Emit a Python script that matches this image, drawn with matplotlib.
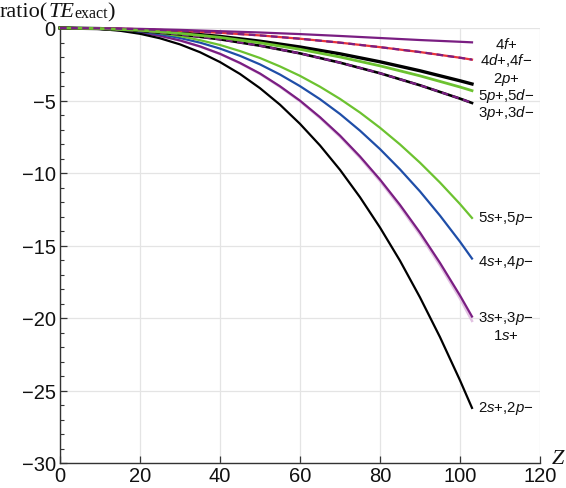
import matplotlib
matplotlib.use("Agg")
import matplotlib.pyplot as plt
from matplotlib.ticker import MultipleLocator

plt.rcParams["mathtext.fontset"] = "custom"
plt.rcParams["mathtext.rm"] = "Liberation Serif"
plt.rcParams["mathtext.it"] = "Liberation Serif:italic"
plt.rcParams["mathtext.bf"] = "Liberation Sans:italic"
plt.rcParams["font.family"] = ["Liberation Sans", "DejaVu Sans"]

# ---- data ----
Z5 = [0, 5, 10, 15, 20, 25, 30, 35, 40, 45, 50, 55, 60, 65, 70, 75, 80, 85, 90, 95, 100, 103]
s2 = [0, -0.01, -0.07, -0.19, -0.40, -0.71, -1.13, -1.67, -2.35, -3.17, -4.15, -5.29, -6.61,
      -8.10, -9.78, -11.67, -13.76, -16.05, -18.58, -21.32, -24.30, -26.2]
s3 = [0, -0.01, -0.05, -0.15, -0.30, -0.54, -0.86, -1.27, -1.78, -2.41, -3.14, -4.02, -5.01,
      -6.15, -7.42, -8.86, -10.45, -12.2, -14.11, -16.2, -18.45, -19.9]
s1 = [0, -0.01, -0.05, -0.15, -0.30, -0.54, -0.86, -1.28, -1.79, -2.43, -3.17, -4.06, -5.06,
      -6.21, -7.50, -8.95, -10.56, -12.33, -14.26, -16.38, -18.66, -20.2]
s4 = [0, -0.01, -0.04, -0.12, -0.24, -0.43, -0.69, -1.01, -1.42, -1.92, -2.51, -3.21, -4.01,
      -4.91, -5.93, -7.08, -8.35, -9.75, -11.27, -12.94, -14.74, -15.9]
s5 = [0, -0.01, -0.03, -0.10, -0.20, -0.35, -0.56, -0.84, -1.17, -1.59, -2.07, -2.65, -3.30,
      -4.05, -4.89, -5.83, -6.88, -8.03, -9.29, -10.66, -12.14, -13.1]

Z10 = [0, 10, 20, 30, 40, 50, 60, 70, 80, 90, 100, 103]
p2 = [0, -0.04, -0.15, -0.33, -0.58, -0.91, -1.31, -1.78, -2.33, -2.95, -3.64, -3.86]
p5 = [0, -0.04, -0.16, -0.37, -0.65, -1.02, -1.47, -2.00, -2.61, -3.30, -4.07, -4.32]
p3 = [0, -0.05, -0.20, -0.44, -0.78, -1.22, -1.75, -2.39, -3.12, -3.95, -4.87, -5.17]
d4 = [0, -0.02, -0.08, -0.19, -0.33, -0.51, -0.74, -1.01, -1.32, -1.66, -2.05, -2.18]
f4 = [0, -0.02, -0.06, -0.13, -0.22, -0.31, -0.42, -0.55, -0.69, -0.83, -0.95, -0.99]

labels = ["4$\\mathbf{f}$+", "4$\\mathbf{d}$+,4$\\mathbf{f}$\u2212", "2$\\mathbf{p}$+",
          "5$\\mathbf{p}$+,5$\\mathbf{d}$\u2212", "3$\\mathbf{p}$+,3$\\mathbf{d}$\u2212",
          "5$\\mathbf{s}$+,5$\\mathbf{p}$\u2212", "4$\\mathbf{s}$+,4$\\mathbf{p}$\u2212",
          "3$\\mathbf{s}$+,3$\\mathbf{p}$\u2212", "1$\\mathbf{s}$+", "2$\\mathbf{s}$+,2$\\mathbf{p}$\u2212"]
label_y = [-1.05, -2.14, -3.5, -4.6, -5.8, -13.1, -16.1, -20.0, -21.15, -26.2]

ylabel_parts = ["ratio(", "TE", "exact", ")"]

xticks = [0, 20, 40, 60, 80, 100, 120]
yticks = [-30, -25, -20, -15, -10, -5, 0]

PURPLE = "#7a1e82"
GREEN = "#6cc230"
BLUE = "#1f4ea8"
RED = "#e8343a"
PINK = "#e2c2e2"

W, H = 566, 489
fig = plt.figure(figsize=(W / 100, H / 100), dpi=100)
ax = fig.add_axes([60 / W, 25 / H, 480 / W, 435 / H])

lw = 1.6
ax.plot(Z5, s1, color=PINK, lw=1.8, clip_on=False, zorder=3)
ax.plot(Z5, s3, color=PURPLE, lw=lw, clip_on=False, zorder=4)
ax.plot(Z5, s2, color="black", lw=lw, clip_on=False, zorder=4)
ax.plot(Z5, s4, color=BLUE, lw=lw, clip_on=False, zorder=4)
ax.plot(Z5, s5, color=GREEN, lw=lw, clip_on=False, zorder=4)
ax.plot(Z10, p3, color="black", lw=lw + 0.3, clip_on=False, zorder=4)
ax.plot(Z10, p3, color=PURPLE, lw=lw, ls=(0, (3, 2)), clip_on=False, zorder=5)
ax.plot(Z10, p5, color=GREEN, lw=lw + 0.4, clip_on=False, zorder=5)
ax.plot(Z10, p2, color="black", lw=lw + 0.8, clip_on=False, zorder=4)
ax.plot(Z10, d4, color=RED, lw=lw, clip_on=False, zorder=4)
ax.plot(Z10, d4, color=PURPLE, lw=lw, ls=(0, (3, 2)), clip_on=False, zorder=5)
ax.plot(Z10, f4, color=PURPLE, lw=lw, clip_on=False, zorder=4)

for lab, yv in zip(labels, label_y):
    ax.text(111.5, yv, lab, ha="center", va="center", fontsize=10.8, clip_on=False,
            color="#111111")

ax.set_xlim(0, 120)
ax.set_ylim(-30, 0)
ax.set_xticks(xticks)
ax.set_yticks(yticks)
ax.yaxis.set_minor_locator(MultipleLocator(1))
ax.grid(True, which="major", color="#e4e4e4", lw=0.9, zorder=0)
ax.set_axisbelow(True)
for sp in ["top", "right"]:
    ax.spines[sp].set_visible(False)
for sp in ["left", "bottom"]:
    ax.spines[sp].set_color("#333333")
    ax.spines[sp].set_linewidth(1.0)
ax.tick_params(which="major", direction="in", length=5, width=0.9, color="#333333",
               labelsize=14.5, labelcolor="#111111")
ax.tick_params(which="minor", direction="in", length=3, width=0.8, color="#333333")
ax.tick_params(axis="y", pad=3)
ax.tick_params(axis="x", pad=2)

# y-axis title built from pieces (serif, italic TE, small "exact")
fig.canvas.draw()
renderer = fig.canvas.get_renderer()
styles = [dict(fontsize=16, style="normal", dy=0),
          dict(fontsize=16, style="italic", dy=0),
          dict(fontsize=11.5, style="normal", dy=-1.5),
          dict(fontsize=16, style="normal", dy=0)]
xpix = 0.0
base = H - 17
for part, st in zip(ylabel_parts, styles):
    t = fig.text(xpix / W, (base + st["dy"]) / H, part, fontsize=st["fontsize"],
                 fontstyle=st["style"], fontfamily="Liberation Serif", ha="left",
                 va="baseline", color="#111111")
    bb = t.get_window_extent(renderer)
    xpix = bb.x1

fig.text(558 / W, 1 - 460 / H, "Z", fontsize=16, fontstyle="italic",
         fontfamily="Liberation Serif", ha="center", va="center", color="#111111")

fig.savefig("out.png", dpi=100)
